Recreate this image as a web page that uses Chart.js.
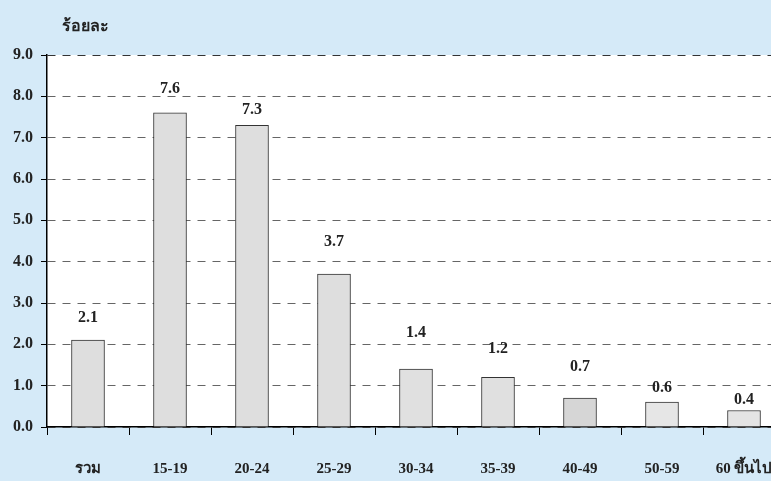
<!DOCTYPE html>
<html>
<head>
<meta charset="utf-8">
<script src="https://cdn.jsdelivr.net/npm/chart.js@4.4.1/dist/chart.umd.min.js"></script>
<style>
    html, body { margin: 0; padding: 0; overflow: hidden; background: #d5eaf8; }
    #wrap { width: 771px; height: 481px; overflow: hidden; }
</style>
</head>
<body>
<div id="wrap"><canvas id="ageChart" width="800" height="481"></canvas></div>
<script>
// Data
const categories = ['รวม', '15-19', '20-24', '25-29', '30-34', '35-39', '40-49', '50-59', '60 ขึ้นไป'];
const values = [2.1, 7.6, 7.3, 3.7, 1.4, 1.2, 0.7, 0.6, 0.4];
const yTicks = [0, 1, 2, 3, 4, 5, 6, 7, 8, 9];
const yTitle = 'ร้อยละ';

const barFill = ['#dedede', '#dedede', '#dedede', '#dedede', '#e0e0e0', '#e0e0e0', '#d6d6d6', '#e6e6e6', '#e4e4e4'];
// how far each value label sits above its bar, px
const labelLift = [22, 24, 15, 32, 36, 29, 31, 14, 11];

const serif = "'Liberation Serif', 'DejaVu Serif', serif";

// white plot area + value labels + axis title
const decor = {
    id: 'decor',
    beforeDraw(chart) {
        const { ctx, chartArea: a } = chart;
        ctx.save();
        ctx.fillStyle = '#ffffff';
        ctx.fillRect(a.left, a.top, a.right - a.left, a.bottom - a.top);
        ctx.restore();
    },
    afterDatasetsDraw(chart) {
        const { ctx } = chart;
        const meta = chart.getDatasetMeta(0);
        ctx.save();
        ctx.font = 'bold 16px ' + serif;
        ctx.fillStyle = '#222';
        ctx.textAlign = 'center';
        ctx.textBaseline = 'middle';
        meta.data.forEach((bar, i) => {
            ctx.fillText(values[i].toFixed(1), bar.x, bar.y - labelLift[i]);
        });
        ctx.textAlign = 'left';
        ctx.font = 'bold 16px ' + serif;
        ctx.fillText(yTitle, 62, 27);
        ctx.restore();
    }
};

const ctx = document.getElementById('ageChart').getContext('2d');
new Chart(ctx, {
    type: 'bar',
    data: {
        labels: categories,
        datasets: [{
            data: values,
            backgroundColor: barFill,
            borderColor: '#333',
            borderWidth: 1,
            barThickness: 33
        }]
    },
    options: {
        responsive: false,
        animation: false,
        layout: { padding: { top: 55, right: 15, left: 0, bottom: 0 } },
        plugins: {
            legend: { display: false },
            tooltip: { enabled: false }
        },
        scales: {
            x: {
                afterFit(scale) { scale.height = 54; },
                grid: {
                    offset: true,
                    drawOnChartArea: false,
                    tickLength: 8,
                    tickColor: '#000'
                },
                border: { color: '#000', width: 1.5 },
                ticks: {
                    color: '#222',
                    padding: 25,
                    font: { family: serif, size: 15, weight: 'bold' }
                }
            },
            y: {
                min: 0,
                max: 9,
                afterFit(scale) { scale.width = 47; },
                afterBuildTicks(scale) { scale.ticks = yTicks.map(v => ({ value: v })); },
                grid: {
                    color: c => c.tick && c.tick.value === 9 ? '#333' : '#666',
                    tickLength: 6,
                    tickColor: '#000',
                    tickBorderDash: []
                },
                border: { color: '#000', width: 1.5, dash: [8, 7] },
                ticks: {
                    color: '#222',
                    padding: 8,
                    font: { family: serif, size: 16, weight: 'bold' },
                    callback: v => v.toFixed(1)
                }
            }
        }
    },
    plugins: [decor]
});
</script>
</body>
</html>
